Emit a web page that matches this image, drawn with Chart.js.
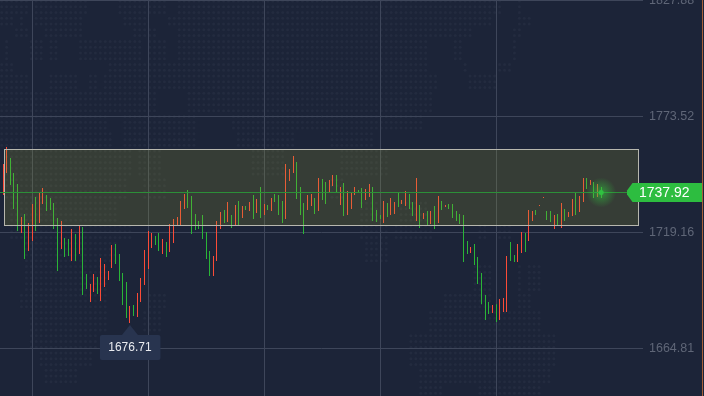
<!DOCTYPE html>
<html>
<head>
<meta charset="utf-8">
<style>
  html, body { margin: 0; padding: 0; background: #1c2438; overflow: hidden; }
  canvas { display: block; }
</style>
<script src="https://cdn.jsdelivr.net/npm/chart.js@4"></script>
</head>
<body>
<canvas id="chart" width="704" height="396"></canvas>
<script>
const highs = [
  1751.3, 1759.2, 1754.1, 1747.0, 1741.9, 1726.4, 1727.8, 1723.6, 1732.5, 1735.8,
  1737.7, 1740.0, 1736.7, 1735.3, 1733.0, 1726.0, 1724.6, 1716.6, 1716.1, 1720.8,
  1718.5, 1722.2, 1721.7, 1699.7, 1695.0, 1699.7, 1698.3, 1707.2, 1704.4, 1701.1,
  1713.3, 1713.8, 1709.1, 1700.2, 1696.0, 1684.7, 1685.2, 1690.8, 1697.8, 1711.0,
  1719.9, 1718.9, 1717.5, 1718.9, 1716.1, 1714.7, 1723.1, 1725.5, 1726.4, 1733.9,
  1737.2, 1739.1, 1736.3, 1727.8, 1724.6, 1727.4, 1719.4, 1710.5, 1708.1, 1724.6,
  1728.8, 1729.7, 1733.5, 1727.4, 1732.1, 1733.9, 1731.6, 1731.6, 1733.5, 1736.7,
  1734.9, 1740.5, 1732.5, 1732.1, 1735.3, 1737.2, 1736.7, 1733.9, 1751.3, 1748.9,
  1755.0, 1752.2, 1740.5, 1733.0, 1736.7, 1737.2, 1735.3, 1744.7, 1744.2, 1742.8,
  1743.8, 1746.1, 1746.1, 1740.5, 1742.4, 1738.6, 1737.7, 1740.5, 1739.1, 1740.0,
  1739.5, 1741.9, 1740.5, 1729.7, 1727.4, 1733.9, 1733.0, 1735.3, 1733.5, 1737.7,
  1734.4, 1738.6, 1737.2, 1733.5, 1744.7, 1732.1, 1728.3, 1729.2, 1729.2, 1731.6,
  1736.3, 1733.9, 1732.1, 1732.5, 1732.5, 1729.2, 1727.8, 1727.4, 1715.2, 1712.4,
  1713.8, 1707.7, 1700.2, 1689.9, 1686.6, 1685.2, 1685.6, 1688.0, 1688.5, 1708.1,
  1714.7, 1708.6, 1713.8, 1719.4, 1718.9, 1729.7, 1729.2, 1729.7, 1732.1, 1735.8,
  1729.2, 1729.2, 1727.4, 1727.8, 1733.0, 1730.2, 1728.8, 1734.9, 1738.1, 1736.3,
  1744.7, 1744.7, 1743.8, 1742.8, 1741.9, 1740.5
];
const lows = [
  1736.7, 1747.0, 1741.4, 1730.2, 1719.9, 1718.9, 1706.7, 1710.5, 1715.2, 1719.9,
  1723.6, 1732.5, 1729.2, 1729.7, 1720.8, 1701.1, 1711.4, 1707.7, 1708.1, 1705.8,
  1705.8, 1709.1, 1689.9, 1692.7, 1686.6, 1691.3, 1690.3, 1687.1, 1693.6, 1696.9,
  1702.5, 1704.4, 1696.4, 1685.2, 1679.1, 1676.71, 1680.0, 1679.6, 1686.6, 1694.6,
  1702.1, 1711.9, 1713.3, 1710.5, 1709.1, 1707.7, 1710.0, 1714.2, 1722.7, 1722.7,
  1730.2, 1730.6, 1718.5, 1720.3, 1720.8, 1716.1, 1706.7, 1698.8, 1698.8, 1705.8,
  1720.8, 1723.6, 1724.1, 1721.3, 1722.7, 1722.7, 1726.0, 1729.7, 1729.2, 1725.5,
  1728.3, 1726.0, 1727.4, 1729.7, 1729.2, 1733.5, 1727.4, 1723.6, 1725.5, 1743.3,
  1747.0, 1734.9, 1727.4, 1718.5, 1729.7, 1731.6, 1727.8, 1729.2, 1734.4, 1732.5,
  1737.7, 1741.0, 1737.7, 1732.1, 1726.9, 1727.4, 1730.2, 1736.7, 1737.7, 1730.6,
  1734.4, 1735.8, 1724.6, 1724.1, 1725.5, 1723.6, 1726.4, 1727.4, 1727.8, 1731.1,
  1732.5, 1731.6, 1730.2, 1726.9, 1724.6, 1721.3, 1725.5, 1722.7, 1723.1, 1720.8,
  1723.6, 1729.7, 1731.1, 1730.2, 1726.0, 1724.6, 1723.1, 1705.3, 1709.1, 1709.5,
  1703.9, 1695.0, 1685.6, 1678.2, 1681.0, 1681.4, 1677.2, 1678.2, 1681.9, 1681.9,
  1705.8, 1705.3, 1705.3, 1709.5, 1710.0, 1715.2, 1724.6, 1727.4, 1731.6, 1735.3,
  1725.0, 1724.1, 1720.8, 1722.2, 1721.3, 1724.6, 1726.4, 1726.9, 1727.4, 1728.8,
  1733.5, 1739.5, 1741.4, 1735.3, 1735.8, 1735.3
];
// 1 = green bar, -1 = red bar
const trend = [
  -1, -1, 1, 1, 1, -1, 1, -1, -1, 1,
  -1, -1, 1, 1, 1, 1, -1, 1, 1, -1,
  1, -1, 1, 1, -1, -1, 1, -1, -1, -1,
  -1, 1, 1, 1, 1, -1, 1, -1, -1, -1,
  -1, -1, 1, 1, -1, 1, -1, -1, -1, -1,
  -1, 1, 1, 1, 1, 1, 1, 1, -1, -1,
  -1, 1, -1, 1, -1, 1, -1, 1, -1, 1,
  -1, 1, -1, 1, -1, 1, 1, 1, -1, -1,
  -1, 1, 1, 1, -1, -1, 1, -1, 1, 1,
  -1, -1, 1, -1, 1, -1, -1, -1, 1, 1,
  -1, -1, 1, 1, 1, -1, 1, -1, -1, 1,
  -1, -1, 1, 1, -1, 1, -1, 1, -1, 1,
  -1, 1, -1, 1, 1, 1, 1, 1, 1, -1,
  1, 1, 1, 1, 1, -1, 1, -1, -1, -1,
  1, 1, -1, -1, 1, -1, -1, 1, -1, -1,
  1, 1, -1, 1, -1, 1, -1, -1, 1, -1,
  -1, 1, -1, 1, -1, 1
];
const priceTicks = [1827.88, 1773.52, 1719.16, 1664.81];
const gridBars = [8, 40, 72, 104, 136];
const lastPrice = 1737.92;
const bandHigh = 1758.05;
const bandLow = 1722.44;

// faint world map behind the chart: [top, bottom, left, right, ...]
const mapPatches = [
  [0, 14, 0, 28, 35, 88, 120, 167, 178, 503, 518, 522],
  [14, 28, 0, 13, 17, 23, 35, 82, 122, 147, 168, 490, 518, 530],
  [28, 40, 15, 30, 45, 82, 133, 157, 175, 473, 513, 523],
  [40, 60, 5, 10, 30, 42, 50, 60, 77, 143, 147, 167, 178, 430, 455, 465, 510, 515],
  [60, 75, 0, 13, 110, 430, 465, 468, 498, 510],
  [75, 90, 0, 28, 50, 77, 90, 97, 105, 437, 470, 495],
  [90, 116, 0, 112, 115, 157, 185, 432],
  [116, 130, 0, 110, 122, 197, 233, 423],
  [130, 150, 0, 115, 123, 197, 238, 295, 330, 375],
  [150, 175, 5, 130, 135, 160, 253, 283, 340, 390],
  [175, 200, 5, 125, 140, 165, 330, 345],
  [200, 225, 10, 120, 360, 380, 400, 430],
  [225, 243, 10, 130, 358, 387, 393, 433, 477, 487, 497, 510],
  [243, 262, 25, 120, 363, 377, 380, 390],
  [262, 290, 25, 110, 473, 493, 517, 523, 527, 543],
  [290, 310, 20, 110, 145, 167, 443, 493, 517, 530],
  [310, 330, 30, 107, 140, 160, 430, 543],
  [330, 350, 30, 97, 410, 558],
  [350, 370, 37, 93, 410, 558],
  [370, 385, 43, 77, 418, 553],
  [385, 396, 418, 443, 477, 543]
];

const GREEN = '#2ab537';
const RED = '#fb4b37';

const drawBackdrop = {
  id: 'backdrop',
  beforeDraw(chart) {
    const { ctx, width, height } = chart;
    ctx.save();
    ctx.fillStyle = '#1c2438';
    ctx.fillRect(0, 0, width, height);
    ctx.fillStyle = '#232b3f';
    for (let row = 0; row < 70; row++) {
      const y = 1 + row * 5.77;
      const patch = mapPatches.find((p) => y >= p[0] && y < p[1]);
      if (!patch) continue;
      for (let col = 0; col < 130; col++) {
        const x = 1.7 + col * 4.93;
        for (let k = 2; k < patch.length; k += 2) {
          if (x >= patch[k] && x <= patch[k + 1]) {
            ctx.beginPath();
            ctx.arc(x, y, 1.5, 0, Math.PI * 2);
            ctx.fill();
          }
        }
      }
    }
    ctx.restore();
  }
};

const drawOverlay = {
  id: 'overlay',
  // keep the thin bars on whole pixel columns
  beforeDatasetsDraw(chart) {
    chart.getDatasetMeta(0).data.forEach((bar) => {
      bar.x = Math.floor(bar.x) + 0.5;
    });
  },
  afterDatasetsDraw(chart) {
    const { ctx, scales: { x: xs, y: ys } } = chart;
    ctx.save();

    // price band
    const top = Math.floor(ys.getPixelForValue(bandHigh)) + 0.5;
    const bottom = Math.floor(ys.getPixelForValue(bandLow)) + 0.5;
    ctx.fillStyle = 'rgba(160, 165, 50, 0.2)';
    ctx.fillRect(4.5, top, 634, bottom - top);
    ctx.strokeStyle = '#b7b7ae';
    ctx.lineWidth = 1;
    ctx.strokeRect(4.5, top, 634, bottom - top);

    // last price line, glow and tag
    const lastY = Math.floor(ys.getPixelForValue(lastPrice)) + 0.5;
    const lastX = xs.getPixelForValue(highs.length - 1);
    ctx.strokeStyle = '#2c8f38';
    ctx.beginPath();
    ctx.moveTo(0, lastY);
    ctx.lineTo(630, lastY);
    ctx.stroke();

    const glow = ctx.createRadialGradient(lastX, lastY, 0, lastX, lastY, 15);
    glow.addColorStop(0, 'rgba(48, 200, 62, 0.6)');
    glow.addColorStop(1, 'rgba(48, 200, 62, 0)');
    ctx.fillStyle = glow;
    ctx.beginPath();
    ctx.arc(lastX, lastY, 15, 0, Math.PI * 2);
    ctx.fill();
    ctx.fillStyle = '#2fc241';
    ctx.beginPath();
    ctx.arc(lastX, lastY, 2.5, 0, Math.PI * 2);
    ctx.fill();

    ctx.fillStyle = '#2dbd40';
    ctx.beginPath();
    ctx.moveTo(702, lastY - 9.5);
    ctx.lineTo(632.5, lastY - 9.5);
    ctx.lineTo(627, lastY - 2);
    ctx.lineTo(627, lastY + 2);
    ctx.lineTo(632.5, lastY + 9.5);
    ctx.lineTo(702, lastY + 9.5);
    ctx.closePath();
    ctx.fill();
    ctx.fillStyle = '#ffffff';
    ctx.font = '14px "Liberation Sans"';
    ctx.textAlign = 'left';
    ctx.textBaseline = 'middle';
    ctx.fillText(lastPrice.toFixed(2), 639, lastY + 0.5);

    // lowest price tag
    const minPrice = Math.min(...lows);
    const minX = xs.getPixelForValue(lows.indexOf(minPrice));
    const tipY = ys.getPixelForValue(minPrice) + 2;
    ctx.fillStyle = '#28344f';
    ctx.beginPath();
    ctx.moveTo(minX, tipY);
    ctx.lineTo(minX + 8, tipY + 10);
    ctx.lineTo(minX - 8, tipY + 10);
    ctx.closePath();
    ctx.fill();
    ctx.beginPath();
    ctx.roundRect(minX - 30, tipY + 10, 60.5, 25, 2);
    ctx.fill();
    ctx.fillStyle = '#e9ebef';
    ctx.font = '12px "Liberation Sans"';
    ctx.textAlign = 'center';
    ctx.fillText(minPrice.toFixed(2), minX, tipY + 23);

    // edge line on the right
    ctx.strokeStyle = '#a8603a';
    ctx.beginPath();
    ctx.moveTo(702.5, 0);
    ctx.lineTo(702.5, 396);
    ctx.stroke();
    ctx.restore();
  }
};

new Chart(document.getElementById('chart').getContext('2d'), {
  type: 'bar',
  data: {
    datasets: [{
      data: highs.map((high, i) => ({ x: i, y: [lows[i], high] })),
      backgroundColor: (c) => (trend[c.dataIndex] > 0 ? GREEN : RED),
      barThickness: 1,
      inflateAmount: 0,
      borderWidth: 0
    }]
  },
  options: {
    responsive: false,
    animation: false,
    layout: { padding: 0 },
    plugins: { legend: { display: false }, tooltip: { enabled: false } },
    scales: {
      x: {
        type: 'linear',
        offset: false,
        min: -0.844,
        max: 176.54,
        afterBuildTicks: (s) => { s.ticks = gridBars.map((value) => ({ value })); },
        afterFit: (s) => { s.height = 0; s.paddingLeft = 0; s.paddingRight = 0; },
        border: { display: false },
        grid: { color: '#3e465a', drawTicks: false, offset: false },
        ticks: { display: false }
      },
      y: {
        position: 'right',
        min: 1642.55,
        max: 1828.11,
        afterBuildTicks: (s) => { s.ticks = priceTicks.map((value) => ({ value })); },
        afterFit: (s) => { s.width = 61; s.paddingTop = 0; s.paddingBottom = 0; },
        border: { display: false },
        grid: { color: '#3e465a', drawTicks: false },
        ticks: {
          color: '#5f6677',
          padding: 6,
          align: 'center',
          crossAlign: 'near',
          autoSkip: false,
          font: { family: '"Liberation Sans"', size: 12.5 },
          callback: (v) => v.toFixed(2)
        }
      }
    }
  },
  plugins: [drawBackdrop, drawOverlay]
});
</script>
</body>
</html>
